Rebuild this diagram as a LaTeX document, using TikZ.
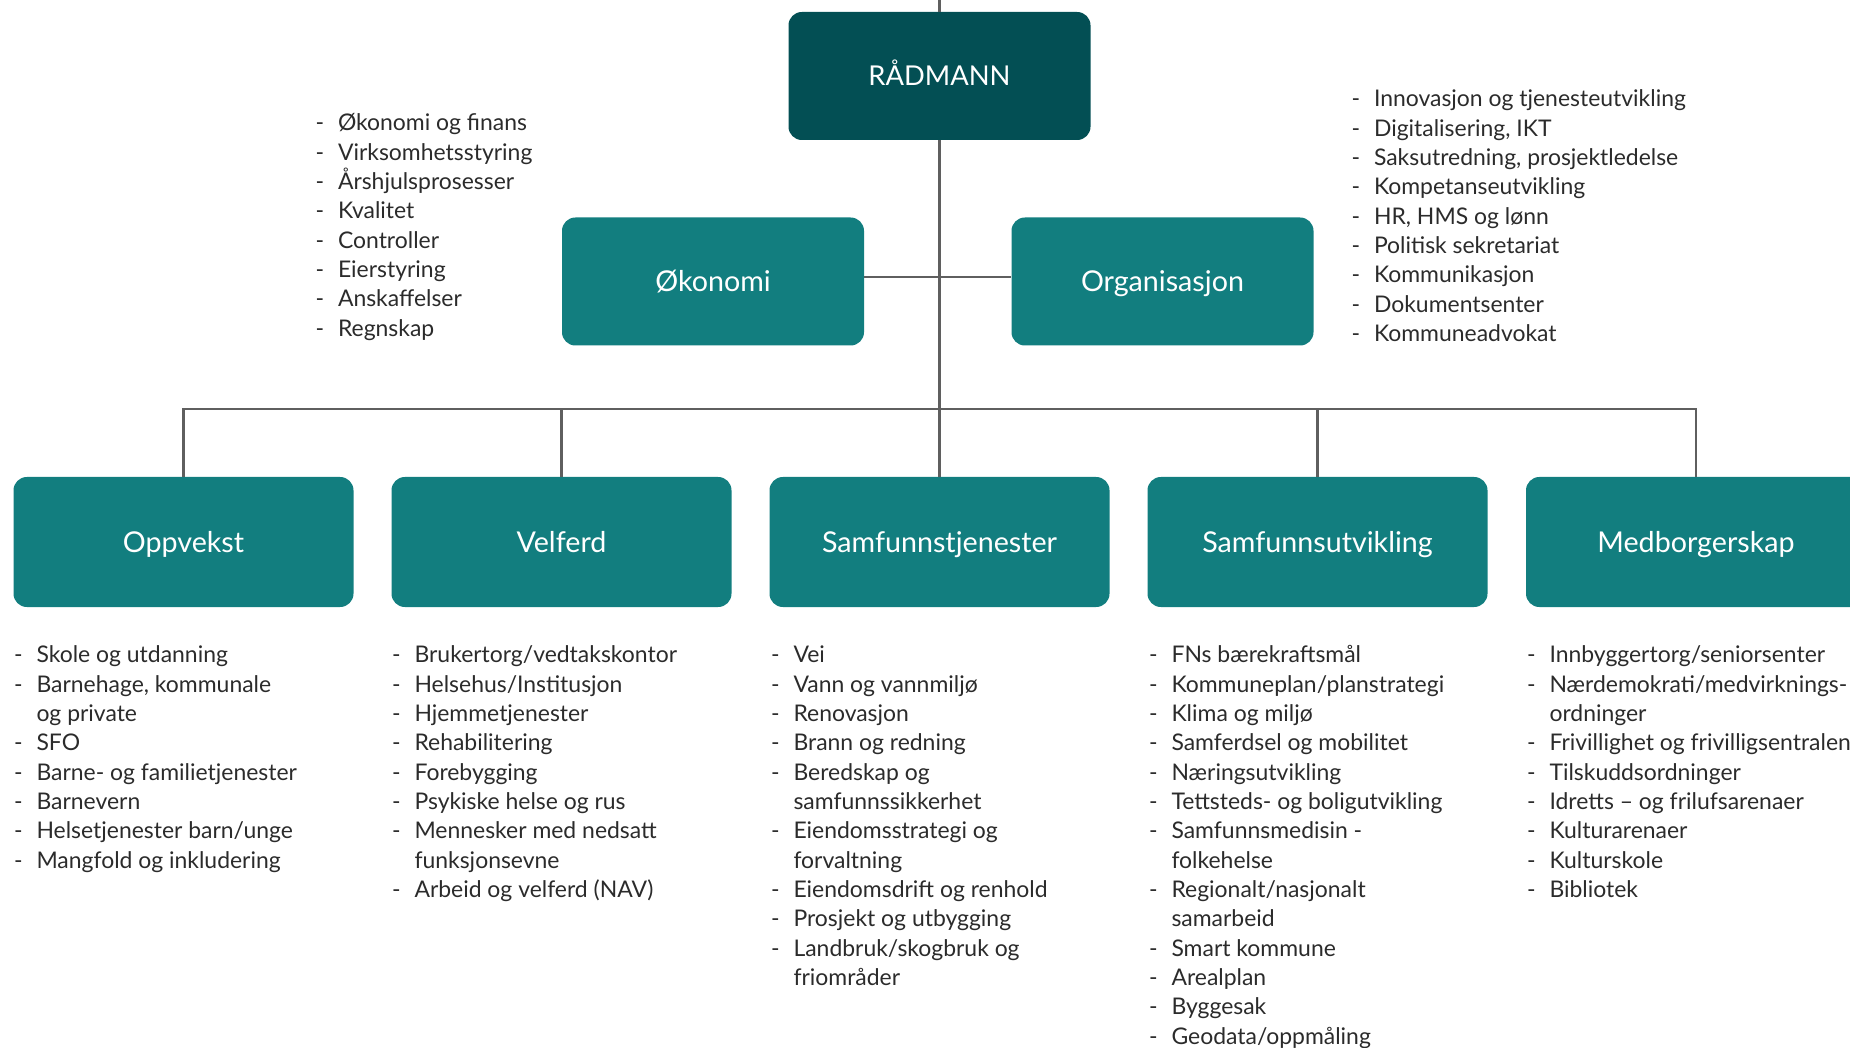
\documentclass[tikz,border=0pt]{standalone}
\usepackage{fontspec}
\setmainfont{Lato}
\usetikzlibrary{matrix,positioning}
\definecolor{raddark}{HTML}{034F54}
\definecolor{tealbox}{HTML}{127E7F}
\definecolor{linegray}{HTML}{5F5F5F}
\definecolor{listtext}{HTML}{2B2B2B}
\tikzset{
	lane/.style={
			draw=linegray,
			line width=1.9pt
		}
}
\begin{document}
\begin{tikzpicture}[x=0.75pt, y=-0.75pt,
every edge/.style = {lane},
         B/.style = {rectangle, rounded corners=10pt, fill=tealbox, text=white,
                     minimum width=255pt, minimum height=97.5pt, inner sep=0pt,
                     text height=15pt, text depth=0pt,
                     font=\fontsize{21.5}{24}\selectfont},
         S/.style = {B, minimum width=226.5pt, minimum height=96pt},
         L/.style = {matrix of nodes, inner sep=0pt, outer sep=0pt, anchor=north west,
                     column sep=10.5pt, row sep=0pt,
                     nodes = {inner sep=0pt, anchor=base west, text height=16pt,
                              text depth=6pt, text=listtext,
                              font=\fontsize{17.2}{22}\selectfont}}
                    ]
\useasboundingbox (0,0) rectangle (1850,1048);

\node (rad)  [S, fill=raddark, font=\fontsize{20.5}{24}\selectfont] at (939.5,76) {RÅDMANN};
\node (oek)  [S] at (713,281.5)    {Økonomi};
\node (org)  [S] at (1162.5,281.5) {Organisasjon};

\node (opp)  [B] at (183.5,542)  {Oppvekst};
\node (vel)  [B] at (561.5,542)  {Velferd};
\node (samt) [B] at (939.5,542)  {Samfunnstjenester};
\node (samu) [B] at (1317.5,542) {Samfunnsutvikling};
\node (med)  [B] at (1696,542)   {Medborgerskap};

\coordinate (top) at (939.5,0);
\coordinate (mid) at (939.5,277);
\coordinate (bus) at (939.5,409);

\draw   (top) edge (rad.north)
        (rad.south) edge (samt.north)
        (oek.east |- mid) edge (org.west |- mid)
        (vel.north) edge (vel.north |- bus)
        (samu.north) edge (samu.north |- bus);
\draw [lane] (opp.north) |- (bus) -| (med.north);

\matrix (oek-l) [L] at (315.5,109.5)
{
- & Økonomi og finans \\
- & Virksomhetsstyring \\
- & Årshjulsprosesser \\
- & Kvalitet \\
- & Controller \\
- & Eierstyring \\
- & Anskaffelser \\
- & Regnskap \\
};
\matrix (org-l) [L] at (1351.5,85.5)
{
- & Innovasjon og tjenesteutvikling \\
- & Digitalisering, IKT \\
- & Saksutredning, prosjektledelse \\
- & Kompetanseutvikling \\
- & HR, HMS og lønn \\
- & Politisk sekretariat \\
- & Kommunikasjon \\
- & Dokumentsenter \\
- & Kommuneadvokat \\
};
\matrix (opp-l) [L] at (14,641.5)
{
- & Skole og utdanning \\
- & Barnehage, kommunale \\
  & og private \\
- & SFO \\
- & Barne- og familietjenester \\
- & Barnevern \\
- & Helsetjenester barn/unge \\
- & Mangfold og inkludering \\
};
\matrix (vel-l) [L] at (392,641.5)
{
- & Brukertorg/vedtakskontor \\
- & Helsehus/Institusjon \\
- & Hjemmetjenester \\
- & Rehabilitering \\
- & Forebygging \\
- & Psykiske helse og rus \\
- & Mennesker med nedsatt \\
  & funksjonsevne \\
- & Arbeid og velferd (NAV) \\
};
\matrix (samt-l) [L] at (771,641.5)
{
- & Vei \\
- & Vann og vannmiljø \\
- & Renovasjon \\
- & Brann og redning \\
- & Beredskap og \\
  & samfunnssikkerhet \\
- & Eiendomsstrategi og \\
  & forvaltning \\
- & Eiendomsdrift og renhold \\
- & Prosjekt og utbygging \\
- & Landbruk/skogbruk og \\
  & friområder \\
};
\matrix (samu-l) [L] at (1149,641.5)
{
- & FNs bærekraftsmål \\
- & Kommuneplan/planstrategi \\
- & Klima og miljø \\
- & Samferdsel og mobilitet \\
- & Næringsutvikling \\
- & Tettsteds- og boligutvikling \\
- & Samfunnsmedisin - \\
  & folkehelse \\
- & Regionalt/nasjonalt \\
  & samarbeid \\
- & Smart kommune \\
- & Arealplan \\
- & Byggesak \\
- & Geodata/oppmåling \\
};
\matrix (med-l) [L] at (1527,641.5)
{
- & Innbyggertorg/seniorsenter \\
- & Nærdemokrati/medvirknings- \\
  & ordninger \\
- & Frivillighet og frivilligsentralen \\
- & Tilskuddsordninger \\
- & Idretts -- og frilufsarenaer \\
- & Kulturarenaer \\
- & Kulturskole \\
- & Bibliotek \\
};
\end{tikzpicture}
\end{document}
